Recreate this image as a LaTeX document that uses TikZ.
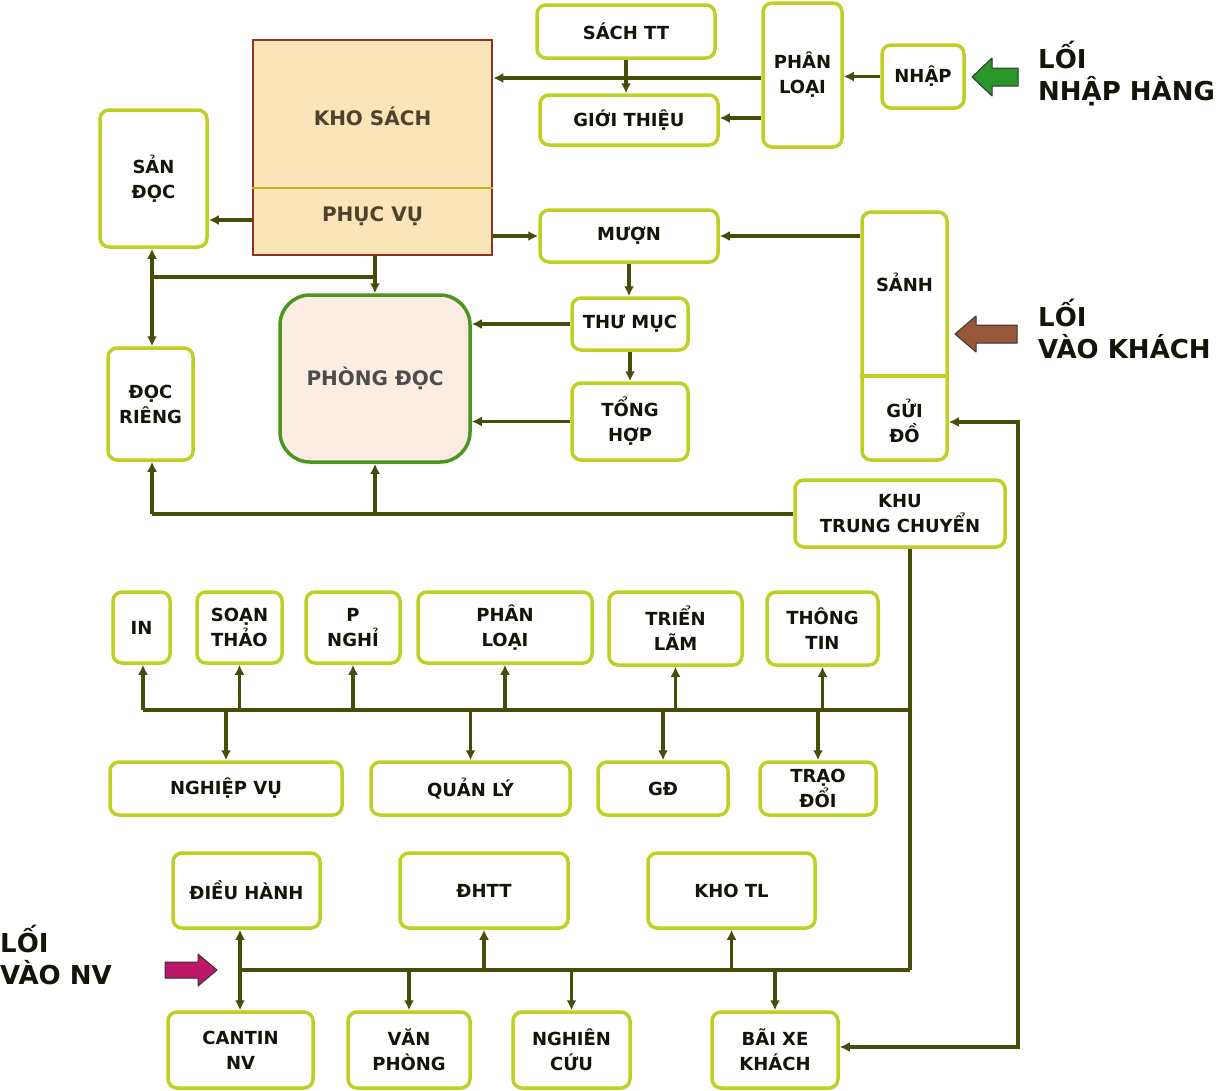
\documentclass[tikz,border=0pt]{standalone}
\usepackage{fontspec}
\setmainfont{DejaVu Sans}
\usetikzlibrary{arrows.meta}
\definecolor{boxc}{RGB}{190,208,36}
\definecolor{linec}{RGB}{72,76,10}
\definecolor{txtc}{RGB}{20,20,10}
\definecolor{khofill}{RGB}{252,228,186}
\definecolor{khoborder}{RGB}{140,52,28}
\definecolor{khodiv}{RGB}{196,176,20}
\definecolor{khotext}{RGB}{80,65,45}
\definecolor{phongfill}{RGB}{251,237,226}
\definecolor{phongborder}{RGB}{76,150,32}
\definecolor{greenarrow}{RGB}{40,150,40}
\definecolor{brownarrow}{RGB}{150,88,56}
\definecolor{magarrow}{RGB}{190,22,104}
\newcommand\lblfont{\fontsize{18}{25}\selectfont\bfseries}
\newcommand\khofont{\fontsize{20}{25}\selectfont\bfseries}
\newcommand\bigfont{\fontsize{26}{32}\selectfont\bfseries}
\newcommand\mybox[7][]{\node[box,#1,minimum width={#5-#3},minimum height={#6-#4}] (#2) at ({(#3+#5)/2},{(#4+#6)/2}) {#7};}
\begin{document}
\begin{tikzpicture}[x=1pt,y=-1pt,
  box/.style={draw=boxc, line width=3.5pt, rounded corners=9pt, fill=white, align=center, inner sep=0pt, font=\lblfont, text=txtc},
  lbl/.style={align=center, inner sep=0pt, font=\lblfont},
  biglbl/.style={align=left, inner sep=0pt, font=\bigfont, text=txtc, anchor=west},
  conn/.style={draw=linec, line width=3.5pt},
  arr/.style={conn, -{Latex[length=10pt,width=10pt]}},
  darr/.style={conn, {Latex[length=10pt,width=10pt]}-{Latex[length=10pt,width=10pt]}},
  bigarrow/.style={draw=black!80, line width=1pt, line join=round}
]
\useasboundingbox (0,0) rectangle (1220,1090);
\fill[white] (0,0) rectangle (1220,1090);

% ---------- top part ----------
\mybox{sachtt}{537}{5}{715}{58}{SÁCH TT}
\mybox{gioithieu}{540}{95}{718}{145}{GIỚI THIỆU}
\mybox{phan}{763}{3}{842}{147}{PHÂN\\LOẠI}
\mybox{nhap}{882}{45}{964}{108}{NHẬP}

\node[draw=khoborder, line width=2.5pt, fill=khofill, minimum width=239, minimum height=215, inner sep=0pt] (kho) at (372.5,147.5) {};
\draw[draw=khodiv, line width=2.5pt] (kho.west |- 0,188) -- (kho.east |- 0,188);
\node[lbl, font=\khofont, text=khotext] (khotxt) at (372.5,116) {KHO SÁCH};
\node[lbl, font=\khofont, text=khotext] (phucvu) at (372.5,216) {PHỤC VỤ};

\mybox{san}{100}{110}{207}{247}{SẢN\\ĐỌC}
\mybox{muon}{540}{210}{718}{262}{MƯỢN}

\node[box, minimum width=85, minimum height=248] (sanh) at (904.5,336) {};
\draw[draw=boxc, line width=3.5pt] (sanh.west |- 0,376) -- (sanh.east |- 0,376);
\node[lbl, text=txtc] (sanhtxt) at (904.5,282) {SẢNH};
\node[lbl, text=txtc] (gui) at (904.5,421) {GỬI\\ĐỒ};

\mybox{docrieng}{108}{348}{193}{460}{ĐỌC\\RIÊNG}
\node[draw=phongborder, line width=3.5pt, fill=phongfill, rounded corners=30pt, minimum width=190, minimum height=167, inner sep=0pt, font=\khofont, text=black!70] (phong) at (375,378.5) {PHÒNG ĐỌC};
\mybox{thumuc}{572}{298}{688}{350}{THƯ MỤC}
\mybox{tonghop}{572}{383}{688}{460}{TỔNG\\HỢP}
\mybox{khu}{795}{480}{1005}{547}{KHU\\TRUNG CHUYỂN}

% entrance arrows and labels
\draw[bigarrow, fill=greenarrow] (972,77) -- (992,58) -- (992,68) -- (1018,68) -- (1018,86) -- (992,86) -- (992,96) -- cycle;
\node[biglbl] (loinhap) at (1038,74) {LỐI\\NHẬP HÀNG};
\draw[bigarrow, fill=brownarrow] (955,334) -- (976,316) -- (976,325) -- (1017,325) -- (1017,343) -- (976,343) -- (976,352) -- cycle;
\node[biglbl] (loikhach) at (1038,329) {LỐI\\VÀO KHÁCH};

% top connectors
\draw[arr] (phan.west |- 0,78) -- (kho.east |- 0,78);
\draw[arr] (sachtt.south) -- (sachtt.south |- gioithieu.north);
\draw[arr] (phan.west |- 0,118) -- (gioithieu.east |- 0,118);
\draw[arr] (nhap.west) -- (nhap.west -| phan.east);
\draw[arr] (kho.west |- 0,220) -- (san.east |- 0,220);
\draw[arr] (kho.east |- muon) -- (muon.west);
\draw[arr] (sanh.west |- muon) -- (muon.east);
\draw[arr] (muon.south) -- (muon.south |- thumuc.north);
\draw[arr] (thumuc.south) -- (thumuc.south |- tonghop.north);
\draw[arr] (thumuc.west) -- (thumuc.west -| phong.east);
\draw[arr] (tonghop.west) -- (tonghop.west -| phong.east);
\draw[arr] (kho.south -| phong.north) -- (phong.north);
\coordinate (j1) at (375,277);
\coordinate (j2) at (152,277);
\draw[conn] (j1) -- (j2);
\draw[arr] (j2) -- (j2 |- san.south);
\draw[arr] (j2) -- (j2 |- docrieng.north);
\coordinate (k1) at (152,514);
\draw[conn] (khu.west |- k1) -- (k1);
\draw[arr] (k1) -- (k1 |- docrieng.south);
\draw[arr] (phong.south |- k1) -- (phong.south);

% ---------- middle part ----------
\mybox{in}{113}{592}{170}{663}{IN}
\mybox{soan}{197}{592}{282}{663}{SOẠN\\THẢO}
\mybox{pnghi}{306}{592}{400}{663}{P\\NGHỈ}
\mybox{phanloai}{418}{592}{592}{663}{PHÂN\\LOẠI}
\mybox{trien}{609}{592}{742}{665}{TRIỂN\\LÃM}
\mybox{thongtin}{767}{592}{878}{665}{THÔNG\\TIN}
\mybox{nghiep}{110}{762}{342}{815}{NGHIỆP VỤ}
\mybox{quanly}{371}{762}{570}{815}{QUẢN LÝ}
\mybox{gd}{598}{762}{728}{815}{GĐ}
\mybox{traodoi}{760}{762}{876}{815}{TRẠO\\ĐỔI}

\coordinate (busAL) at (143,710);
\coordinate (busAR) at (910,710);
\draw[conn] (busAL) -- (busAR);
\draw[conn] (khu.south -| busAR) -- (busAR);
\draw[arr] (busAL) -- (busAL |- in.south);
\draw[arr] (soan.south |- busAL) -- (soan.south);
\draw[arr] (pnghi.south |- busAL) -- (pnghi.south);
\draw[arr] (phanloai.south |- busAL) -- (phanloai.south);
\draw[arr] (trien.south |- busAL) -- (trien.south);
\draw[arr] (thongtin.south |- busAL) -- (thongtin.south);
\draw[arr] (nghiep.north |- busAL) -- (nghiep.north);
\draw[arr] (quanly.north |- busAL) -- (quanly.north);
\draw[arr] (gd.north |- busAL) -- (gd.north);
\draw[arr] (traodoi.north |- busAL) -- (traodoi.north);

% ---------- bottom part ----------
\mybox{dieu}{173}{853}{320}{928}{ĐIỀU HÀNH}
\mybox{dhtt}{400}{853}{568}{928}{ĐHTT}
\mybox{khotl}{648}{853}{815}{928}{KHO TL}
\mybox{cantin}{168}{1012}{313}{1088}{CANTIN\\NV}
\mybox{van}{348}{1012}{470}{1088}{VĂN\\PHÒNG}
\mybox{nghien}{513}{1012}{630}{1088}{NGHIÊN\\CỨU}
\mybox{bai}{712}{1012}{838}{1088}{BÃI XE\\KHÁCH}

\coordinate (busBL) at (240,970);
\coordinate (busBR) at (910,970);
\draw[conn] (busBL) -- (busBR);
\draw[conn] (busAR) -- (busBR);
\draw[arr] (busBL) -- (busBL |- dieu.south);
\draw[arr] (busBL) -- (busBL |- cantin.north);
\draw[arr] (dhtt.south |- busBL) -- (dhtt.south);
\draw[arr] (khotl.south |- busBL) -- (khotl.south);
\draw[arr] (van.north |- busBL) -- (van.north);
\draw[arr] (nghien.north |- busBL) -- (nghien.north);
\draw[arr] (bai.north |- busBL) -- (bai.north);

% right loop: Gui do <-> Bai xe khach
\draw[darr] (sanh.east |- 0,422) -| (1018,1047) -- (bai.east |- 0,1047);

\draw[bigarrow, fill=magarrow] (217,970) -- (198,954) -- (198,962) -- (165,962) -- (165,978) -- (198,978) -- (198,986) -- cycle;
\node[biglbl] (loinv) at (0,955) {LỐI\\VÀO NV};
\end{tikzpicture}
\end{document}
